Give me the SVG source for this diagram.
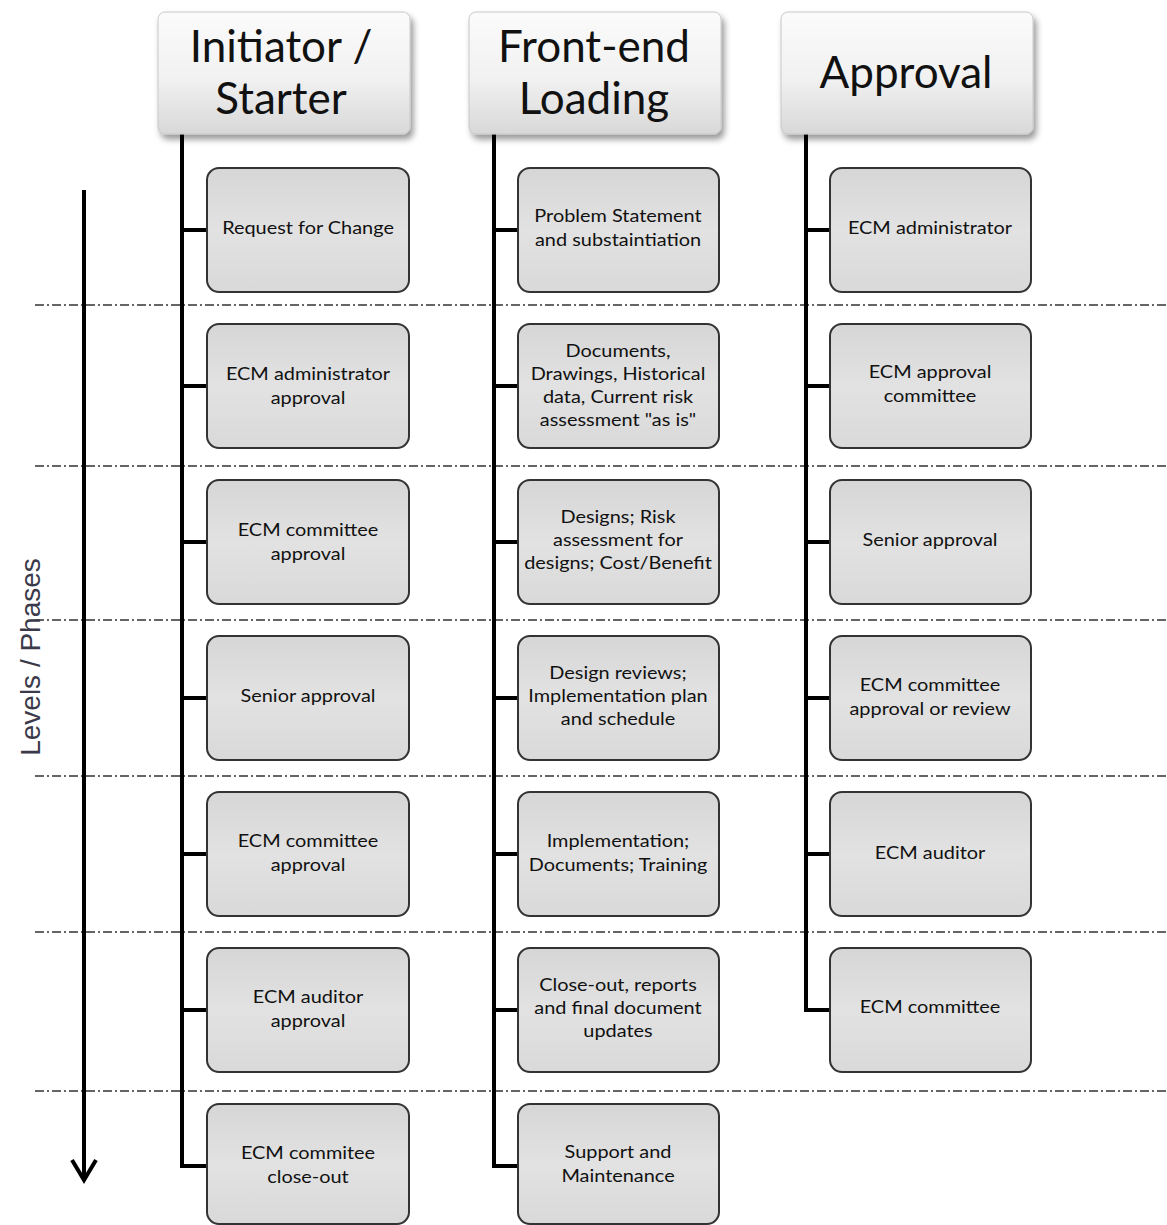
<svg xmlns="http://www.w3.org/2000/svg" width="1167" height="1225" viewBox="0 0 1167 1225">
  <defs>
    <linearGradient id="headFill" x1="0" y1="0" x2="0" y2="1">
      <stop offset="0" stop-color="#fbfbfb"/>
      <stop offset="0.55" stop-color="#f1f1f1"/>
      <stop offset="1" stop-color="#d8d8d8"/>
    </linearGradient>
    <linearGradient id="boxFill" x1="0" y1="0" x2="0" y2="1">
      <stop offset="0" stop-color="#d6d6d6"/>
      <stop offset="0.5" stop-color="#e2e2e2"/>
      <stop offset="1" stop-color="#d9d9d9"/>
    </linearGradient>
    <filter id="headShadow" x="-10%" y="-10%" width="125%" height="135%">
      <feDropShadow dx="3" dy="5" stdDeviation="3" flood-color="#000" flood-opacity="0.4"/>
    </filter>
    <style>
      .head { fill: url(#headFill); stroke: #c8c8c8; stroke-width: 1; filter: url(#headShadow); }
      .headText { font-family: Lato, "Liberation Sans", sans-serif; font-size: 44px; fill: #111; text-anchor: middle; }
      .box { fill: url(#boxFill); stroke: #333; stroke-width: 2; }
      .label { font-family: Lato, "Liberation Sans", sans-serif; font-size: 17px; fill: #111; text-anchor: middle; }
      .trunk { stroke: #000; stroke-width: 4; fill: none; stroke-linejoin: miter; }
      .phase { stroke: #333; stroke-width: 1.4; stroke-dasharray: 9 3 2 3; fill: none; }
      .axis { stroke: #000; stroke-width: 4; fill: none; }
      .axisText { font-family: "Liberation Sans", Arial, sans-serif; font-size: 28px; fill: #3a3a4a; text-anchor: middle; }
    </style>
  </defs>

  <rect width="1167" height="1225" fill="#fff"/>

  <!-- phase separators -->
  <g id="phase-lines">
    <line class="phase" x1="35" y1="305" x2="1167" y2="305"/>
    <line class="phase" x1="35" y1="466" x2="1167" y2="466"/>
    <line class="phase" x1="35" y1="620" x2="1167" y2="620"/>
    <line class="phase" x1="35" y1="776" x2="1167" y2="776"/>
    <line class="phase" x1="35" y1="932" x2="1167" y2="932"/>
    <line class="phase" x1="35" y1="1091" x2="1167" y2="1091"/>
  </g>

  <!-- levels axis -->
  <g id="axis">
    <line class="axis" x1="84" y1="190" x2="84" y2="1180"/>
    <polyline class="axis" points="72,1160 84,1180 96,1160"/>
    <text class="axisText" transform="translate(40,657) rotate(-90)" x="0" y="0">Levels / Phases</text>
  </g>

  <!-- connectors -->
  <g id="connectors">
    <path class="trunk" d="M182,133 V1166 H207 M182,230 H207 M182,386 H207 M182,542 H207 M182,698 H207 M182,854 H207 M182,1010 H207"/>
    <path class="trunk" d="M494,133 V1166 H518 M494,230 H518 M494,386 H518 M494,542 H518 M494,698 H518 M494,854 H518 M494,1010 H518"/>
    <path class="trunk" d="M806,133 V1010 H830 M806,230 H830 M806,386 H830 M806,542 H830 M806,698 H830 M806,854 H830"/>
  </g>

  <!-- column headers -->
  <g id="head-initiator">
    <rect class="head" x="158" y="12" width="252" height="122" rx="7"/>
    <text class="headText"><tspan x="281" y="62">Initiator /</tspan><tspan x="281" y="114">Starter</tspan></text>
  </g>
  <g id="head-frontend">
    <rect class="head" x="469" y="12" width="252" height="122" rx="7"/>
    <text class="headText"><tspan x="594" y="62">Front-end</tspan><tspan x="594" y="114">Loading</tspan></text>
  </g>
  <g id="head-approval">
    <rect class="head" x="781" y="12" width="252" height="122" rx="7"/>
    <text class="headText"><tspan x="906" y="88">Approval</tspan></text>
  </g>

  <!-- Initiator / Starter column -->
  <g id="i1">
    <rect class="box" x="207" y="168" width="202" height="124" rx="12"/>
    <text class="label" transform="translate(308,0) scale(1.17,1)"><tspan x="0" y="234">Request for Change</tspan></text>
  </g>
  <g id="i2">
    <rect class="box" x="207" y="324" width="202" height="124" rx="12"/>
    <text class="label" transform="translate(308,0) scale(1.17,1)"><tspan x="0" y="380">ECM administrator</tspan><tspan x="0" y="404">approval</tspan></text>
  </g>
  <g id="i3">
    <rect class="box" x="207" y="480" width="202" height="124" rx="12"/>
    <text class="label" transform="translate(308,0) scale(1.17,1)"><tspan x="0" y="536">ECM committee</tspan><tspan x="0" y="560">approval</tspan></text>
  </g>
  <g id="i4">
    <rect class="box" x="207" y="636" width="202" height="124" rx="12"/>
    <text class="label" transform="translate(308,0) scale(1.17,1)"><tspan x="0" y="702">Senior approval</tspan></text>
  </g>
  <g id="i5">
    <rect class="box" x="207" y="792" width="202" height="124" rx="12"/>
    <text class="label" transform="translate(308,0) scale(1.17,1)"><tspan x="0" y="847">ECM committee</tspan><tspan x="0" y="871">approval</tspan></text>
  </g>
  <g id="i6">
    <rect class="box" x="207" y="948" width="202" height="124" rx="12"/>
    <text class="label" transform="translate(308,0) scale(1.17,1)"><tspan x="0" y="1003">ECM auditor</tspan><tspan x="0" y="1027">approval</tspan></text>
  </g>
  <g id="i7">
    <rect class="box" x="207" y="1104" width="202" height="120" rx="12"/>
    <text class="label" transform="translate(308,0) scale(1.17,1)"><tspan x="0" y="1159">ECM commitee</tspan><tspan x="0" y="1183">close-out</tspan></text>
  </g>

  <!-- Front-end Loading column -->
  <g id="f1">
    <rect class="box" x="518" y="168" width="201" height="124" rx="12"/>
    <text class="label" transform="translate(618,0) scale(1.17,1)"><tspan x="0" y="222">Problem Statement</tspan><tspan x="0" y="246">and substaintiation</tspan></text>
  </g>
  <g id="f2">
    <rect class="box" x="518" y="324" width="201" height="124" rx="12"/>
    <text class="label" transform="translate(618,0) scale(1.17,1)"><tspan x="0" y="357">Documents,</tspan><tspan x="0" y="380">Drawings, Historical</tspan><tspan x="0" y="403">data, Current risk</tspan><tspan x="0" y="426">assessment "as is"</tspan></text>
  </g>
  <g id="f3">
    <rect class="box" x="518" y="480" width="201" height="124" rx="12"/>
    <text class="label" transform="translate(618,0) scale(1.17,1)"><tspan x="0" y="523">Designs; Risk</tspan><tspan x="0" y="546">assessment for</tspan><tspan x="0" y="569">designs; Cost/Benefit</tspan></text>
  </g>
  <g id="f4">
    <rect class="box" x="518" y="636" width="201" height="124" rx="12"/>
    <text class="label" transform="translate(618,0) scale(1.17,1)"><tspan x="0" y="679">Design reviews;</tspan><tspan x="0" y="702">Implementation plan</tspan><tspan x="0" y="725">and schedule</tspan></text>
  </g>
  <g id="f5">
    <rect class="box" x="518" y="792" width="201" height="124" rx="12"/>
    <text class="label" transform="translate(618,0) scale(1.17,1)"><tspan x="0" y="847">Implementation;</tspan><tspan x="0" y="871">Documents; Training</tspan></text>
  </g>
  <g id="f6">
    <rect class="box" x="518" y="948" width="201" height="124" rx="12"/>
    <text class="label" transform="translate(618,0) scale(1.17,1)"><tspan x="0" y="991">Close-out, reports</tspan><tspan x="0" y="1014">and final document</tspan><tspan x="0" y="1037">updates</tspan></text>
  </g>
  <g id="f7">
    <rect class="box" x="518" y="1104" width="201" height="120" rx="12"/>
    <text class="label" transform="translate(618,0) scale(1.17,1)"><tspan x="0" y="1158">Support and</tspan><tspan x="0" y="1182">Maintenance</tspan></text>
  </g>

  <!-- Approval column -->
  <g id="a1">
    <rect class="box" x="830" y="168" width="201" height="124" rx="12"/>
    <text class="label" transform="translate(930,0) scale(1.17,1)"><tspan x="0" y="234">ECM administrator</tspan></text>
  </g>
  <g id="a2">
    <rect class="box" x="830" y="324" width="201" height="124" rx="12"/>
    <text class="label" transform="translate(930,0) scale(1.17,1)"><tspan x="0" y="378">ECM approval</tspan><tspan x="0" y="402">committee</tspan></text>
  </g>
  <g id="a3">
    <rect class="box" x="830" y="480" width="201" height="124" rx="12"/>
    <text class="label" transform="translate(930,0) scale(1.17,1)"><tspan x="0" y="546">Senior approval</tspan></text>
  </g>
  <g id="a4">
    <rect class="box" x="830" y="636" width="201" height="124" rx="12"/>
    <text class="label" transform="translate(930,0) scale(1.17,1)"><tspan x="0" y="691">ECM committee</tspan><tspan x="0" y="715">approval or review</tspan></text>
  </g>
  <g id="a5">
    <rect class="box" x="830" y="792" width="201" height="124" rx="12"/>
    <text class="label" transform="translate(930,0) scale(1.17,1)"><tspan x="0" y="859">ECM auditor</tspan></text>
  </g>
  <g id="a6">
    <rect class="box" x="830" y="948" width="201" height="124" rx="12"/>
    <text class="label" transform="translate(930,0) scale(1.17,1)"><tspan x="0" y="1013">ECM committee</tspan></text>
  </g>
</svg>
